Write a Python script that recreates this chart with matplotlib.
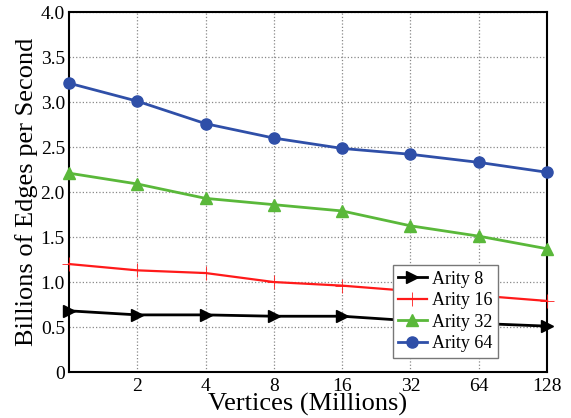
import numpy as np
import matplotlib.pyplot as plt

plt.rcParams['font.family'] = ['Liberation Serif', 'DejaVu Serif']

# Vertices in millions
vertices = [1, 2, 4, 8, 16, 32, 64, 128]
tick_labels = ['2', '4', '8', '16', '32', '64', '128']

arity8 = [0.68, 0.635, 0.635, 0.62, 0.62, 0.57, 0.54, 0.51]
arity16 = [1.20, 1.13, 1.10, 1.00, 0.96, 0.90, 0.85, 0.79]
arity32 = [2.21, 2.09, 1.93, 1.86, 1.79, 1.625, 1.51, 1.37]
arity64 = [3.21, 3.01, 2.76, 2.60, 2.485, 2.42, 2.33, 2.22]

fig = plt.figure(figsize=(5.71, 4.18), dpi=100)
ax = fig.add_axes([0.121, 0.11, 0.837, 0.861])

ax.plot(vertices, arity8, color='black', marker='>', markersize=8, lw=2,
        label='Arity 8', clip_on=False, zorder=3)
ax.plot(vertices, arity16, color='#ff1a1a', marker='+', markersize=10, lw=1.6,
        markeredgewidth=0.6, label='Arity 16', clip_on=False, zorder=3)
ax.plot(vertices, arity32, color='#5ab83a', marker='^', markersize=9, lw=2,
        label='Arity 32', clip_on=False, zorder=3)
ax.plot(vertices, arity64, color='#2f4fa8', marker='o', markersize=8, lw=2,
        label='Arity 64', clip_on=False, zorder=3)

ax.set_xscale('log', base=2)
ax.set_xlim(1, 128)
ax.set_xticks(vertices[1:])
ax.set_xticklabels(tick_labels)
ax.minorticks_off()
ax.set_ylim(0, 4)
ax.set_yticks(np.arange(0, 4.01, 0.5))
ax.set_yticklabels(['0', '0.5', '1.0', '1.5', '2.0', '2.5', '3.0', '3.5', '4.0'])
ax.tick_params(length=0, labelsize=14)
ax.tick_params(axis='x', pad=4)
ax.tick_params(axis='y', pad=3)
ax.grid(True, linestyle=':', color='#888888', linewidth=0.9)

for s in ax.spines.values():
    s.set_linewidth(1.5)

ax.set_xlabel('Vertices (Millions)', fontsize=19, labelpad=-1)
ax.set_ylabel('Billions of Edges per Second', fontsize=19, labelpad=2)

leg = ax.legend(loc='lower right', bbox_to_anchor=(0.898, 0.04), fontsize=13,
                fancybox=False, edgecolor='#777777', framealpha=1,
                handlelength=1.6, borderpad=0.3, labelspacing=0.25,
                handletextpad=0.3, borderaxespad=0.0)
leg.get_frame().set_linewidth(1.0)

fig.savefig('out.png', dpi=100)
